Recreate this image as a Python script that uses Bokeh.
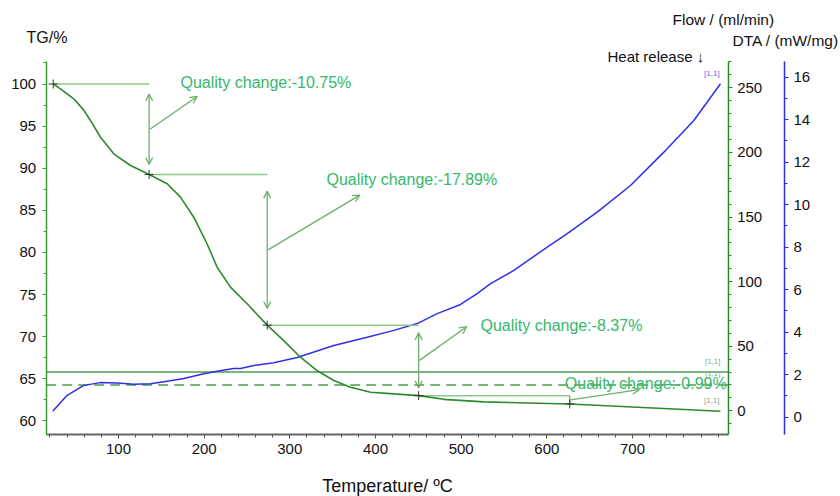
from bokeh.plotting import figure
from bokeh.models import Range1d, LinearAxis, Label, Arrow, OpenHead, FixedTicker
from bokeh.embed import file_html
from bokeh.resources import INLINE

# ---------------- data ----------------
temp_tg = [23.8, 32.3, 47.8, 59.5, 67.3, 79.0, 86.8, 94.5, 114.0, 125.7, 135.8, 156.8, 172.4,
           187.9, 203.5, 215.2, 230.7, 250.2, 273.6, 292.9, 312.4, 331.8, 351.3, 370.8,
           394.2, 421.4, 450.4, 479.7, 526.4, 626.8, 802.6]
tg = [100.0, 99.43, 98.24, 96.9, 95.67, 93.68, 92.7, 91.71, 90.32, 89.75, 89.25, 88.15, 86.56,
      84.18, 81.0, 78.24, 75.87, 73.9, 71.36, 69.53, 67.55, 65.97, 64.79, 63.99,
      63.4, 63.2, 62.99, 62.55, 62.25, 62.0, 61.14]

temp_dta = [23.3, 40.1, 59.5, 79.0, 98.5, 117.9, 137.4, 156.8, 176.2, 199.6, 215.2, 234.6,
            242.4, 258.0, 281.3, 308.6, 351.4, 390.3, 421.4, 448.7, 472.0, 499.3, 518.7,
            534.3, 561.5, 600.5, 623.8, 658.8, 697.7, 736.6, 771.6, 802.7]
dta = [0.27, 1.02, 1.49, 1.62, 1.60, 1.54, 1.57, 1.69, 1.81, 2.04, 2.15, 2.28,
       2.28, 2.43, 2.56, 2.80, 3.37, 3.76, 4.08, 4.40, 4.87, 5.30, 5.81,
       6.28, 6.90, 8.0, 8.63, 9.65, 10.9, 12.47, 13.96, 15.69]

flow_temp = [15.6, 811.7]
flow_solid = [30, 30]
flow_dashed = [20, 20]

step_temp = [23.8, 135.8, 273.6, 450.4, 626.8]
step_tg = [100.0, 89.25, 71.36, 62.99, 62.00]
quality_change = ["-10.75%", "-17.89%", "-8.37%", "-0.99%"]

x_ticks = [100, 200, 300, 400, 500, 600, 700]
tg_ticks = [60, 65, 70, 75, 80, 85, 90, 95, 100]
flow_ticks = [0, 50, 100, 150, 200, 250]
dta_ticks = [0, 2, 4, 6, 8, 10, 12, 14, 16]

# axis extents (data units of each scale)
x_bounds = (15.6, 811.7)
tg_bounds = (58.37, 102.67)
flow_bounds = (-18.34, 270.36)
dta_bounds = (-0.814, 16.739)
flow_axis_at = 811.7
dta_axis_at = 877.4

# ---------------- style ----------------
FONT = "Liberation Sans"
TG_GREEN = "#2b8a2b"
AXIS_GREEN = "#3a9a3a"
ANN_GREEN = "#6cae6c"
TXT_GREEN = "#35b86a"
BLUE = "#2f2fe8"

p = figure(width=840, height=496, x_range=Range1d(-37.7, 942.8), y_range=Range1d(51.01, 109.917),
           output_backend="svg", toolbar_location=None, min_border=0,
           min_border_left=0, min_border_right=0, min_border_top=0, min_border_bottom=0)
p.extra_y_ranges = {"flow": Range1d(-66.33, 317.57), "dta": Range1d(-3.741, 19.609)}
p.xgrid.visible = False
p.ygrid.visible = False
p.outline_line_color = None
p.background_fill_color = "white"
p.border_fill_color = "white"


def style_axis(ax, color, tick_color, label_standoff):
    ax.axis_line_color = color
    ax.axis_line_width = 1.5
    ax.major_tick_line_color = tick_color
    ax.minor_tick_line_color = tick_color
    ax.major_tick_in = 0
    ax.major_tick_out = 4
    ax.minor_tick_in = 0
    ax.minor_tick_out = 3
    ax.major_label_text_font = FONT
    ax.major_label_text_font_size = "15px"
    ax.major_label_text_color = "#111111"
    ax.major_label_standoff = label_standoff


# x axis
xa = p.xaxis[0]
xa.ticker = FixedTicker(ticks=x_ticks, minor_ticks=list(range(20, 811, 20)))
style_axis(xa, "#666666", "#555555", 5)
xa.axis_line_width = 2
xa.fixed_location = tg_bounds[0]
xa.bounds = x_bounds
xa.axis_label = "Temperature/ \u00baC"
xa.axis_label_text_font = FONT
xa.axis_label_text_font_size = "18px"
xa.axis_label_text_font_style = "normal"
xa.axis_label_text_color = "#111111"
xa.axis_label_standoff = 19

# left TG axis
ya = p.yaxis[0]
ya.ticker = FixedTicker(ticks=tg_ticks, minor_ticks=[60 + 2.5 * i for i in range(18)])
style_axis(ya, AXIS_GREEN, AXIS_GREEN, 6)
ya.fixed_location = x_bounds[0]
ya.bounds = tg_bounds

# right flow axis
fa = LinearAxis(y_range_name="flow",
                ticker=FixedTicker(ticks=flow_ticks, minor_ticks=list(range(-10, 271, 10))))
style_axis(fa, TG_GREEN, TG_GREEN, 5)
fa.fixed_location = flow_axis_at
fa.bounds = flow_bounds
p.add_layout(fa, "right")

# right DTA axis
da = LinearAxis(y_range_name="dta",
                ticker=FixedTicker(ticks=dta_ticks, minor_ticks=list(range(0, 17))))
style_axis(da, BLUE, BLUE, 5)
da.fixed_location = dta_axis_at
da.bounds = dta_bounds
p.add_layout(da, "right")

# flow lines
p.line(flow_temp, flow_solid, y_range_name="flow", line_color="#4c9e4c", line_width=1.5)
p.line(flow_temp, flow_dashed, y_range_name="flow", line_color="#4c9e4c", line_width=1.5,
       line_dash="10 6")

# DTA curve
p.line(temp_dta, dta, y_range_name="dta", line_color=BLUE, line_width=1.5)

# annotation geometry
for i in range(4):
    t0, t1 = step_temp[i], step_temp[i + 1]
    g0, g1 = step_tg[i], step_tg[i + 1]
    p.line([t0, t1], [g0, g0], line_color="#8cc88c", line_width=1.5)
    if i < 3:
        gap = (g0 - g1) * 0.11
        p.add_layout(Arrow(start=OpenHead(size=7, line_color=ANN_GREEN, line_width=1.3),
                           end=OpenHead(size=7, line_color=ANN_GREEN, line_width=1.3),
                           x_start=t1, y_start=g0 - gap, x_end=t1, y_end=g1 + gap,
                           line_color=ANN_GREEN, line_width=1.3))
    else:
        p.line([t1, t1], [g0, g1], line_color=ANN_GREEN, line_width=1.3)

diag_dx = [55, 107, 55, 80]
diag_dy = [3.9, 6.5, 4.0, 1.2]
text_dx = [36.6, 69.2, 72.2, -5.8]
text_dy = [5.6, 8.4, 4.15, 1.9]
for i in range(4):
    t1 = step_temp[i + 1]
    gm = (step_tg[i] + step_tg[i + 1]) / 2
    p.add_layout(Arrow(end=OpenHead(size=7, line_color=ANN_GREEN, line_width=1.3),
                       x_start=t1 + 1, y_start=gm, x_end=t1 + 1 + diag_dx[i], y_end=gm + diag_dy[i],
                       line_color=ANN_GREEN, line_width=1.3))
    p.add_layout(Label(x=t1 + text_dx[i], y=gm + text_dy[i],
                       text="Quality change:" + quality_change[i],
                       text_font=FONT, text_font_size="16px", text_color=TXT_GREEN,
                       text_baseline="middle", text_align="left"))

# TG curve and step markers
p.line(temp_tg, tg, line_color=TG_GREEN, line_width=1.6)
p.scatter(step_temp, step_tg, marker="cross", size=9, line_color="#333333", line_width=1)

# small end-of-curve labels
def tag(x, y, rng, color):
    kw = {} if rng is None else {"y_range_name": rng}
    p.add_layout(Label(x=x, y=y, text="[1,1]", text_font=FONT, text_font_size="8px",
                       text_color=color, text_align="right", text_baseline="middle", **kw))

tag(temp_dta[-1] - 1, dta[-1] + 0.5, "dta", "#6a6ae6")
tag(flow_temp[1] - 9, flow_solid[0] + 8, "flow", "#88aa88")
tag(flow_temp[1] - 9, flow_dashed[0] + 9, "flow", "#88aa88")
tag(temp_tg[-1] - 1, tg[-1] + 1.3, None, "#88aa88")

# headings
def head(txt, x, y, size="15px"):
    p.add_layout(Label(x=x, y=y, x_units="canvas", y_units="canvas", text=txt,
                       text_font=FONT, text_font_size=size, text_color="#111111",
                       text_align="left", text_baseline="middle"))

head("TG/%", 26, 37, size="16px")
head("Flow / (ml/min)", 672, 19, size="15.5px")
head("DTA / (mW/mg)", 732, 40, size="15.5px")
head("Heat release \u2193", 607, 56, size="15px")

open("out.html", "w").write(file_html(p, INLINE))
